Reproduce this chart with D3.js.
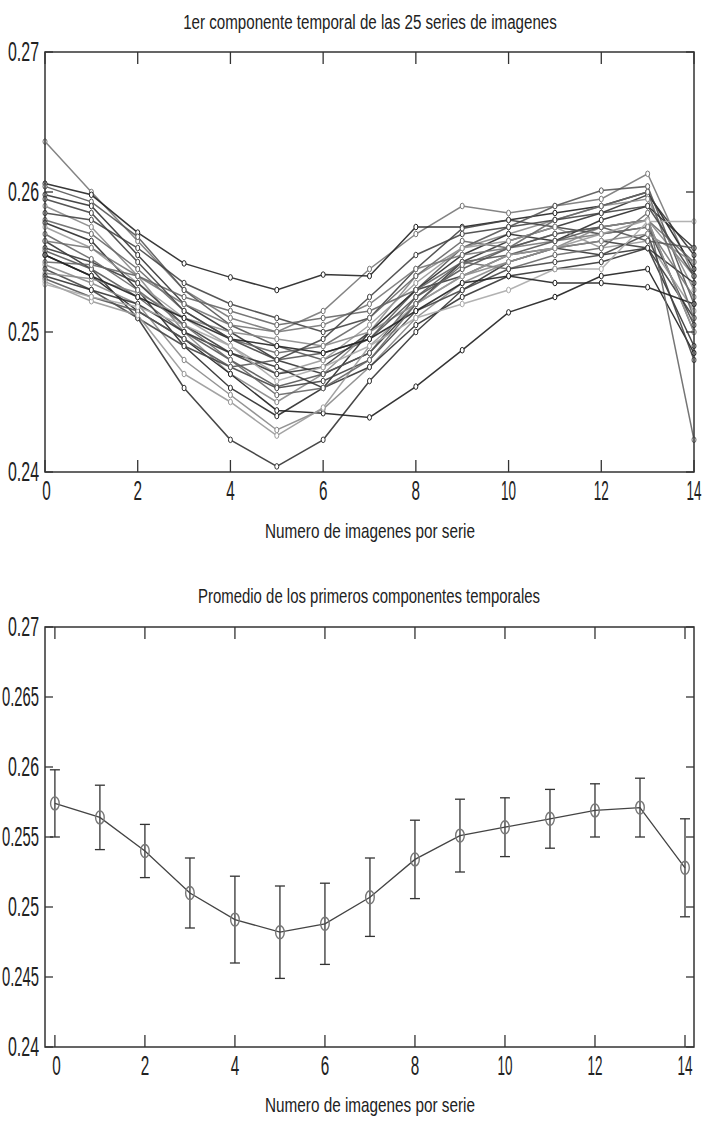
<!DOCTYPE html>
<html><head><meta charset="utf-8">
<script src="https://cdn.jsdelivr.net/npm/d3@7"></script>
<style>body{margin:0;background:#fff}svg{display:block}</style>
</head><body>
<svg id="c" width="703" height="1126"></svg>
<script>
// ---------- data ----------
const steps = [0,1,2,3,4,5,6,7,8,9,10,11,12,13,14];
const xTickValues = [0,2,4,6,8,10,12,14];
const yTicksTop = [0.24,0.25,0.26,0.27];
const yTicksBottom = [0.24,0.245,0.25,0.255,0.26,0.265,0.27];
const yTickLabelsBottom = ["0.24","0.245","0.25","0.255","0.26","0.265","0.27"];

const titleTop = "1er componente temporal de las 25 series de imagenes";
const titleBottom = "Promedio de los primeros componentes temporales";
const xLabel = "Numero de imagenes por serie";

// 25 temporal components (first component of each image series)
const series01 = [0.2636,0.2600,0.2565,0.2530,0.2510,0.2500,0.2515,0.2545,0.2570,0.2590,0.2585,0.2590,0.2595,0.2613,0.2540];
const series02 = [0.2606,0.2598,0.2571,0.2549,0.2539,0.2530,0.2541,0.2540,0.2575,0.2575,0.2580,0.2585,0.2590,0.2600,0.2545];
const series03 = [0.2604,0.2593,0.2568,0.2530,0.2505,0.2490,0.2480,0.2495,0.2530,0.2560,0.2575,0.2590,0.2601,0.2604,0.2520];
const series04 = [0.2598,0.2590,0.2555,0.2520,0.2500,0.2480,0.2470,0.2485,0.2520,0.2550,0.2565,0.2575,0.2585,0.2598,0.2555];
const series05 = [0.2590,0.2575,0.2540,0.2500,0.2470,0.2450,0.2470,0.2500,0.2540,0.2560,0.2570,0.2580,0.2590,0.2595,0.2530];
const series06 = [0.2585,0.2580,0.2560,0.2535,0.2520,0.2510,0.2500,0.2510,0.2545,0.2574,0.2580,0.2575,0.2570,0.2575,0.2505];
const series07 = [0.2580,0.2570,0.2545,0.2515,0.2495,0.2485,0.2490,0.2510,0.2540,0.2565,0.2560,0.2570,0.2575,0.2580,0.2550];
const series08 = [0.2578,0.2565,0.2530,0.2490,0.2460,0.2440,0.2460,0.2500,0.2530,0.2555,0.2570,0.2565,0.2580,0.2590,0.2560];
const series09 = [0.2575,0.2560,0.2535,0.2510,0.2490,0.2470,0.2480,0.2505,0.2535,0.2560,0.2565,0.2575,0.2560,0.2565,0.2515];
const series10 = [0.2565,0.2545,0.2510,0.2460,0.2423,0.2404,0.2423,0.2465,0.2500,0.2530,0.2550,0.2560,0.2555,0.2560,0.2490];
const series11 = [0.2565,0.2560,0.2540,0.2520,0.2505,0.2500,0.2505,0.2520,0.2545,0.2555,0.2560,0.2565,0.2570,0.2575,0.2525];
const series12 = [0.2560,0.2550,0.2535,0.2505,0.2485,0.2470,0.2475,0.2500,0.2530,0.2540,0.2555,0.2560,0.2565,0.2560,0.2510];
const series13 = [0.2558,0.2545,0.2525,0.2500,0.2480,0.2461,0.2470,0.2485,0.2525,0.2545,0.2560,0.2570,0.2575,0.2580,0.2500];
const series14 = [0.2555,0.2540,0.2515,0.2495,0.2470,0.2444,0.2442,0.2439,0.2461,0.2487,0.2514,0.2525,0.2540,0.2545,0.2485];
const series15 = [0.2550,0.2548,0.2540,0.2525,0.2515,0.2505,0.2510,0.2515,0.2530,0.2550,0.2545,0.2555,0.2560,0.2585,0.2423];
const series16 = [0.2548,0.2535,0.2520,0.2480,0.2455,0.2430,0.2445,0.2475,0.2510,0.2535,0.2550,0.2560,0.2575,0.2580,0.2540];
const series17 = [0.2545,0.2530,0.2510,0.2490,0.2475,0.2460,0.2465,0.2480,0.2515,0.2530,0.2545,0.2550,0.2555,0.2570,0.2480];
const series18 = [0.2542,0.2538,0.2528,0.2510,0.2500,0.2495,0.2490,0.2500,0.2520,0.2540,0.2550,0.2560,0.2565,0.2570,0.2550];
const series19 = [0.2540,0.2530,0.2520,0.2500,0.2485,0.2475,0.2460,0.2475,0.2505,0.2525,0.2540,0.2545,0.2550,0.2560,0.2535];
const series20 = [0.2538,0.2525,0.2515,0.2495,0.2475,0.2480,0.2485,0.2495,0.2525,0.2550,0.2555,0.2565,0.2575,0.2565,0.2560];
const series21 = [0.2536,0.2522,0.2512,0.2470,0.2450,0.2426,0.2446,0.2490,0.2520,0.2540,0.2555,0.2560,0.2570,0.2580,0.2500];
const series22 = [0.2534,0.2525,0.2518,0.2505,0.2490,0.2465,0.2475,0.2490,0.2510,0.2520,0.2530,0.2545,0.2545,0.2579,0.2579];
const series23 = [0.2555,0.2540,0.2525,0.2510,0.2495,0.2490,0.2485,0.2495,0.2515,0.2535,0.2540,0.2535,0.2535,0.2532,0.2520];
const series24 = [0.2570,0.2552,0.2530,0.2505,0.2480,0.2455,0.2460,0.2480,0.2520,0.2548,0.2560,0.2580,0.2590,0.2600,0.2510];
const series25 = [0.2595,0.2585,0.2550,0.2515,0.2495,0.2480,0.2495,0.2525,0.2555,0.2570,0.2575,0.2580,0.2585,0.2590,0.2540];

const allSeries = [series01,series02,series03,series04,series05,series06,series07,series08,series09,series10,
  series11,series12,series13,series14,series15,series16,series17,series18,series19,series20,
  series21,series22,series23,series24,series25];

// average of first components and its spread
const meanValues = [0.2574,0.2564,0.2540,0.2510,0.2491,0.2482,0.2488,0.2507,0.2534,0.2551,0.2557,0.2563,0.2569,0.2571,0.2528];
const errValues  = [0.0024,0.0023,0.0019,0.0025,0.0031,0.0033,0.0029,0.0028,0.0028,0.0026,0.0021,0.0021,0.0019,0.0021,0.0035];

// ---------- styles ----------
const grays = ["#777","#222","#555","#333","#888","#444","#666","#2a2a2a","#999","#333",
               "#777","#3a3a3a","#555","#1e1e1e","#666","#888","#444","#8a8a8a","#333","#555",
               "#999","#aaa","#222","#666","#444"];
const FONT = "'Liberation Sans', Arial, sans-serif";
const svg = d3.select("#c");

// condensed text: horizontal scale so the text spans the given width
function addText(g, str, x, y, size, width, anchor) {
  const grp = g.append("g");
  const t = grp.append("text").attr("x", 0).attr("y", 0)
    .attr("font-family", FONT).attr("font-size", size)
    .attr("fill", "#222").attr("text-anchor", anchor || "middle")
    .text(str);
  const natural = t.node().getComputedTextLength() || width;
  const sx = width / natural;
  grp.attr("transform", `translate(${x},${y}) scale(${sx},1)`);
  return grp;
}

function frame(x, y, L, R, T, B, yTicks, yLabels) {
  const g = svg.append("g");
  xTickValues.forEach(v => {
    g.append("line").attr("x1", x(v)).attr("x2", x(v)).attr("y1", B).attr("y2", B - 12).attr("stroke", "#333").attr("stroke-width", 1.3);
    g.append("line").attr("x1", x(v)).attr("x2", x(v)).attr("y1", T).attr("y2", T + 12).attr("stroke", "#333").attr("stroke-width", 1.3);
    const w = v >= 10 ? 15 : 8.5;
    addText(g, String(v), Math.min(x(v) + (v === 0 ? 1.5 : 0), 702 - w / 2), B + 28, 27, w);
  });
  yTicks.forEach((v, i) => {
    g.append("line").attr("x1", L).attr("x2", L + 8).attr("y1", y(v)).attr("y2", y(v)).attr("stroke", "#333").attr("stroke-width", 1.3);
    g.append("line").attr("x1", R).attr("x2", R - 8).attr("y1", y(v)).attr("y2", y(v)).attr("stroke", "#333").attr("stroke-width", 1.3);
    const lab = yLabels[i];
    addText(g, lab, L - 6, y(v) + 9, 27, lab.length >= 5 ? 37 : 31, "end");
  });
  g.append("rect").attr("x", L).attr("y", T).attr("width", R - L).attr("height", B - T)
    .attr("fill", "none").attr("stroke", "#333").attr("stroke-width", 1.5);
  return g;
}

// ---------- top chart ----------
{
  const L = 45, R = 694, T = 52, B = 472;
  const x = d3.scaleLinear().domain([0, 14]).range([L, R]);
  const y = d3.scaleLinear().domain([0.24, 0.27]).range([B, T]);
  const line = d3.line().x((d, i) => x(steps[i])).y(d => y(d));
  const g = svg.append("g");
  allSeries.forEach((s, k) => {
    g.append("path").attr("d", line(s)).attr("fill", "none")
      .attr("stroke", grays[k]).attr("stroke-width", 1.5).attr("stroke-opacity", 0.9);
  });
  allSeries.forEach((s, k) => {
    g.selectAll(null).data(s).enter().append("ellipse")
      .attr("cx", (d, i) => x(steps[i])).attr("cy", d => y(d))
      .attr("rx", 2).attr("ry", 2.8)
      .attr("fill", "#fff").attr("stroke", grays[k]).attr("stroke-width", 1);
  });
  frame(x, y, L, R, T, B, yTicksTop, yTicksTop.map(v => String(v)));
  addText(svg, titleTop, 370, 29, 21, 374);
  addText(svg, xLabel, 370, 538, 21, 210);
}

// ---------- bottom chart ----------
{
  const L = 45, R = 694, T = 627, B = 1047;
  const x = d3.scaleLinear().domain([-0.22, 14.2]).range([L, R]);
  const y = d3.scaleLinear().domain([0.24, 0.27]).range([B, T]);
  const g = svg.append("g");
  const line = d3.line().x((d, i) => x(steps[i])).y(d => y(d));
  meanValues.forEach((m, i) => {
    const cx = x(steps[i]), y1 = y(m + errValues[i]), y0 = y(m - errValues[i]);
    g.append("line").attr("x1", cx).attr("x2", cx).attr("y1", y1).attr("y2", y0).attr("stroke", "#333").attr("stroke-width", 1.3);
    g.append("line").attr("x1", cx - 5).attr("x2", cx + 5).attr("y1", y1).attr("y2", y1).attr("stroke", "#333").attr("stroke-width", 1.3);
    g.append("line").attr("x1", cx - 5).attr("x2", cx + 5).attr("y1", y0).attr("y2", y0).attr("stroke", "#333").attr("stroke-width", 1.3);
  });
  g.append("path").attr("d", line(meanValues)).attr("fill", "none").attr("stroke", "#444").attr("stroke-width", 1.3);
  g.selectAll(null).data(meanValues).enter().append("ellipse")
    .attr("cx", (d, i) => x(steps[i])).attr("cy", d => y(d))
    .attr("rx", 4.3).attr("ry", 6.5)
    .attr("fill", "none").attr("stroke", "#777").attr("stroke-width", 1.4);
  frame(x, y, L, R, T, B, yTicksBottom, yTickLabelsBottom);
  addText(svg, titleBottom, 369, 603, 21, 342);
  addText(svg, xLabel, 370, 1112, 21, 210);
}
</script>
</body></html>
